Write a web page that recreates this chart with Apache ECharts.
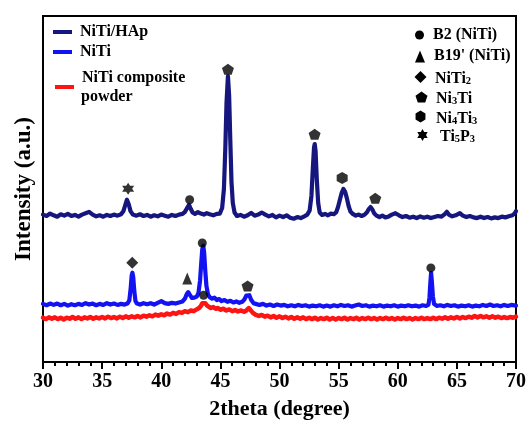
<!DOCTYPE html>
<html>
<head>
<meta charset="utf-8">
<script src="https://cdn.jsdelivr.net/npm/echarts@6/dist/echarts.min.js"></script>
<style>
html,body{margin:0;padding:0;background:#fff;}
#chart{width:529px;height:425px;}
</style>
</head>
<body>
<div id="chart"></div>
<script>
// ---- data (2theta in degrees, intensity in arbitrary units) ----
const seriesNames = ["NiTi/HAp", "NiTi", "NiTi composite\npowder"];
const xTicks = [30, 35, 40, 45, 50, 55, 60, 65, 70];

const hapData = [[30.0,42.6],[30.3,42.2],[30.6,42.9],[30.9,42.4],[31.2,42.0],[31.5,42.7],[31.8,42.3],[32.1,42.8],[32.4,42.2],[32.7,42.5],[33.0,42.0],[33.3,42.6],[33.6,43.0],[33.9,43.4],[34.2,42.6],[34.5,42.1],[34.8,42.4],[35.1,42.0],[35.4,42.5],[35.7,42.2],[36.0,42.6],[36.3,42.3],[36.6,42.7],[36.8,43.6],[36.95,45.3],[37.1,46.9],[37.25,45.6],[37.4,43.6],[37.6,42.6],[37.9,42.3],[38.2,42.7],[38.5,42.2],[38.8,42.5],[39.1,42.0],[39.4,42.4],[39.7,42.1],[40.0,42.6],[40.3,42.3],[40.6,42.0],[40.9,42.5],[41.2,42.2],[41.5,42.6],[41.8,42.8],[42.0,43.4],[42.2,44.6],[42.35,45.4],[42.5,44.2],[42.65,43.2],[42.85,42.8],[43.1,43.3],[43.35,42.9],[43.6,42.6],[43.85,43.0],[44.1,42.7],[44.4,42.4],[44.7,42.8],[44.95,42.9],[45.15,44.5],[45.3,50.0],[45.42,62.0],[45.52,75.0],[45.64,82.6],[45.74,77.0],[45.84,64.0],[45.94,52.0],[46.05,46.0],[46.2,43.2],[46.4,42.2],[46.7,42.5],[47.0,42.0],[47.3,42.4],[47.6,43.1],[47.9,42.3],[48.2,42.6],[48.5,43.2],[48.8,42.6],[49.1,42.1],[49.4,42.5],[49.7,41.8],[50.0,42.3],[50.3,41.9],[50.6,42.4],[50.9,41.7],[51.2,41.4],[51.5,41.9],[51.8,41.6],[52.1,42.1],[52.35,42.6],[52.55,43.8],[52.7,48.0],[52.82,56.0],[52.92,62.0],[52.98,63.0],[53.05,61.0],[53.15,53.0],[53.27,46.0],[53.4,43.2],[53.6,42.5],[53.85,42.8],[54.1,42.4],[54.35,42.9],[54.6,42.7],[54.8,43.3],[54.95,44.8],[55.1,46.8],[55.25,48.8],[55.4,50.0],[55.55,49.2],[55.7,47.3],[55.85,45.0],[56.0,43.5],[56.2,42.8],[56.45,42.3],[56.7,42.6],[56.95,42.2],[57.2,42.6],[57.4,43.3],[57.55,44.2],[57.7,44.8],[57.85,44.1],[58.0,43.0],[58.2,42.3],[58.45,41.9],[58.7,42.3],[58.95,41.8],[59.2,42.0],[59.5,42.6],[59.8,43.0],[60.1,42.4],[60.4,41.9],[60.7,42.2],[61.0,41.7],[61.3,42.0],[61.6,41.6],[61.9,42.1],[62.2,41.7],[62.5,42.0],[62.8,41.6],[63.1,41.9],[63.4,42.2],[63.7,42.0],[64.0,42.8],[64.15,43.4],[64.35,42.5],[64.6,42.1],[64.9,42.4],[65.25,43.0],[65.5,42.3],[65.8,41.9],[66.1,42.2],[66.4,41.8],[66.7,41.6],[67.0,42.0],[67.3,41.6],[67.6,41.9],[67.9,41.5],[68.2,41.8],[68.5,41.6],[68.8,42.0],[69.1,41.8],[69.4,42.1],[69.7,42.4],[69.9,43.0],[70.0,43.6]];

const nitiData = [[30.0,16.8],[30.3,16.4],[30.6,16.9],[30.9,16.5],[31.2,16.9],[31.5,16.4],[31.8,16.8],[32.1,16.3],[32.4,16.7],[32.7,16.4],[33.0,16.8],[33.3,16.5],[33.6,17.0],[33.9,16.6],[34.2,16.9],[34.5,16.4],[34.8,16.8],[35.1,16.5],[35.4,17.0],[35.7,16.6],[36.0,16.9],[36.3,16.5],[36.6,16.8],[36.9,16.6],[37.15,16.9],[37.3,17.8],[37.42,21.5],[37.5,25.0],[37.56,25.8],[37.63,24.5],[37.72,20.5],[37.82,17.6],[37.95,16.9],[38.2,16.6],[38.5,17.0],[38.8,16.7],[39.1,17.0],[39.4,16.6],[39.7,17.1],[40.0,17.6],[40.3,17.0],[40.6,16.8],[40.9,17.1],[41.2,16.9],[41.5,17.2],[41.8,17.5],[42.0,18.3],[42.15,19.6],[42.28,20.2],[42.42,19.4],[42.6,18.5],[42.8,18.6],[43.0,18.9],[43.15,20.0],[43.28,23.5],[43.38,28.5],[43.47,32.6],[43.55,33.6],[43.63,31.5],[43.72,26.5],[43.82,22.0],[43.95,19.6],[44.1,18.7],[44.3,18.3],[44.5,18.6],[44.7,17.9],[44.9,18.2],[45.1,17.6],[45.35,17.9],[45.6,17.4],[45.85,17.7],[46.1,17.2],[46.35,17.5],[46.6,17.1],[46.85,17.4],[47.05,18.2],[47.2,19.2],[47.32,19.7],[47.45,19.3],[47.6,18.0],[47.8,17.0],[48.0,16.8],[48.3,16.5],[48.6,16.8],[48.9,16.3],[49.2,16.6],[49.5,16.2],[49.8,16.6],[50.1,16.3],[50.4,16.5],[50.7,16.1],[51.0,16.4],[51.3,16.1],[51.6,16.5],[51.9,16.2],[52.2,16.4],[52.5,16.0],[52.8,16.3],[53.1,16.1],[53.4,16.4],[53.7,16.0],[54.0,16.3],[54.3,16.0],[54.6,16.4],[54.9,16.1],[55.2,16.5],[55.5,16.2],[55.8,16.4],[56.1,16.0],[56.4,16.3],[56.7,16.6],[57.0,16.2],[57.3,16.4],[57.6,16.0],[57.9,16.3],[58.2,16.1],[58.5,16.4],[58.8,16.0],[59.1,16.3],[59.4,16.1],[59.7,16.4],[60.0,16.0],[60.3,16.3],[60.6,16.1],[60.9,16.4],[61.2,16.1],[61.5,16.3],[61.8,16.0],[62.1,16.4],[62.4,16.2],[62.6,16.6],[62.68,18.5],[62.75,22.5],[62.82,25.8],[62.89,23.0],[62.97,19.0],[63.07,16.8],[63.3,16.2],[63.6,16.4],[63.9,16.1],[64.2,16.5],[64.5,16.2],[64.8,16.4],[65.1,16.0],[65.4,16.3],[65.7,16.1],[66.0,16.4],[66.3,16.0],[66.6,16.3],[66.9,16.1],[67.2,16.5],[67.5,16.2],[67.8,16.6],[68.1,16.2],[68.4,16.4],[68.7,16.1],[69.0,16.5],[69.3,16.2],[69.6,16.5],[70.0,16.3]];

const powderData = [[30.0,12.8],[30.25,12.4],[30.5,12.9],[30.75,12.5],[31.0,12.9],[31.25,12.4],[31.5,12.8],[31.75,12.3],[32.0,12.8],[32.25,12.5],[32.5,13.0],[32.75,12.5],[33.0,12.9],[33.25,12.4],[33.5,12.9],[33.75,12.6],[34.0,13.0],[34.25,12.5],[34.5,12.9],[34.75,12.6],[35.0,13.0],[35.25,12.6],[35.5,13.1],[35.75,12.7],[36.0,13.0],[36.25,12.6],[36.5,13.1],[36.75,12.7],[37.0,13.2],[37.25,12.8],[37.5,13.2],[37.75,12.9],[38.0,13.3],[38.25,12.9],[38.5,13.4],[38.75,13.1],[39.0,13.5],[39.25,13.2],[39.5,13.7],[39.75,13.4],[40.0,13.8],[40.25,13.5],[40.5,14.0],[40.75,13.7],[41.0,14.2],[41.25,13.9],[41.5,14.4],[41.75,14.2],[42.0,14.7],[42.25,14.4],[42.5,14.9],[42.75,14.7],[43.0,15.2],[43.2,15.6],[43.35,16.2],[43.48,17.0],[43.6,17.4],[43.72,17.0],[43.85,16.4],[44.0,16.0],[44.2,15.6],[44.4,15.9],[44.6,15.4],[44.8,15.6],[45.0,15.1],[45.25,15.4],[45.5,14.9],[45.75,15.2],[46.0,14.7],[46.25,15.0],[46.5,14.6],[46.75,14.9],[47.0,14.5],[47.2,14.9],[47.4,15.6],[47.55,15.2],[47.75,14.2],[48.0,13.6],[48.25,13.3],[48.5,13.6],[48.75,13.1],[49.0,13.4],[49.25,12.9],[49.5,13.3],[49.75,12.8],[50.0,13.2],[50.25,12.7],[50.5,13.1],[50.75,12.6],[51.0,13.0],[51.25,12.5],[51.5,12.9],[51.75,12.5],[52.0,12.9],[52.25,12.4],[52.5,12.8],[52.75,12.4],[53.0,12.8],[53.25,12.3],[53.5,12.7],[53.75,12.4],[54.0,12.8],[54.25,12.3],[54.5,12.7],[54.75,12.3],[55.0,12.7],[55.25,12.4],[55.5,12.8],[55.75,12.3],[56.0,12.7],[56.25,12.4],[56.5,12.8],[56.75,12.3],[57.0,12.7],[57.25,12.4],[57.5,12.8],[57.75,12.4],[58.0,12.7],[58.25,12.3],[58.5,12.7],[58.75,12.4],[59.0,12.8],[59.25,12.4],[59.5,12.7],[59.75,12.3],[60.0,12.7],[60.25,12.4],[60.5,12.8],[60.75,12.4],[61.0,12.7],[61.25,12.3],[61.5,12.7],[61.75,12.4],[62.0,12.8],[62.25,12.4],[62.5,12.7],[62.75,12.4],[63.0,12.8],[63.25,12.4],[63.5,12.8],[63.75,12.5],[64.0,12.9],[64.25,12.5],[64.5,12.9],[64.75,12.6],[65.0,13.0],[65.25,12.6],[65.5,13.0],[65.75,12.7],[66.0,13.1],[66.25,12.8],[66.5,13.3],[66.75,12.9],[67.0,13.3],[67.25,12.9],[67.5,13.2],[67.75,12.8],[68.0,13.2],[68.25,12.8],[68.5,13.1],[68.75,12.7],[69.0,13.0],[69.25,12.7],[69.5,13.0],[69.75,12.8],[70.0,13.1]];

// phase markers: [2theta, height]
const b2Points = [[42.4,46.9],[43.47,34.4],[43.58,19.3],[62.8,27.2]];
const b19Points = [[42.2,24.1]];
const niti2Points = [[37.55,28.7]];
const ni3tiPoints = [[45.64,84.6],[52.97,65.8],[47.3,22.0],[58.1,47.3]];
const ni4ti3Points = [[55.3,53.2]];
const ti5p3Points = [[37.2,50.1]];

// ---- styling ----
const FONT = "'Liberation Serif','Times New Roman',serif";
const navy = "#16167f";
const blue = "#1212f2";
const red = "#ff1414";
// unit shapes (0..100 box)
const SH_TRI = [[50,0],[100,100],[0,100]];
const SH_DIA = [[50,0],[100,50],[50,100],[0,50]];
const SH_PENT = [[50,0],[100,38],[81,100],[19,100],[0,38]];
const SH_HEX = [[50,0],[95,25],[95,75],[50,100],[5,75],[5,25]];
const SH_STAR = [[50,0],[64,25],[93,25],[79,50],[93,75],[64,75],[50,100],[36,75],[7,75],[21,50],[7,25],[36,25]];
function toPath(pts) {
  return 'path://' + pts.map((p, i) => (i ? 'L' : 'M') + p[0] + ',' + p[1]).join(' ') + ' Z';
}

function markerSeries(name, data, symbol, size) {
  return {
    name: name, type: 'scatter', data: data, symbol: symbol, symbolSize: size,
    itemStyle: { color: '#000' }, z: 5, silent: true
  };
}
function lineSeries(name, data, color, width, z) {
  return { name: name, type: 'line', data: data, showSymbol: false,
    lineStyle: { color: color, width: width, join: 'round', cap: 'round' }, z: z };
}

const chart = echarts.init(document.getElementById('chart'), null, { renderer: 'canvas' });

const legText = { fontFamily: FONT, fontWeight: 'bold', fontSize: 16, fill: '#000' };
const legText2 = { fontFamily: FONT, fontWeight: 'bold', fontSize: 16, fill: '#000' };
const subRich = {
  a: { fontFamily: FONT, fontWeight: 'bold', fontSize: 16, lineHeight: 19, verticalAlign: 'bottom', fill: '#000' },
  b: { fontFamily: FONT, fontWeight: 'bold', fontSize: 10.5, lineHeight: 12, verticalAlign: 'bottom', fill: '#000' }
};
function gtext(x, y, text, style) {
  return { type: 'text', x: x, y: y, style: Object.assign({ text: text, verticalAlign: 'middle' }, style) };
}
function richText(x, y, text) {
  return { type: 'text', x: x, y: y, style: { text: text, rich: subRich, fill: '#000', verticalAlign: 'middle', fontFamily: FONT, fontWeight: 'bold', fontSize: 16 } };
}
function legSym(cx, cy, w, h, pts) {
  return { type: 'polygon', shape: { points: pts.map(p => [cx - w / 2 + p[0] * w / 100, cy - h / 2 + p[1] * h / 100]) }, style: { fill: '#000' } };
}

const option = {
  animation: false,
  backgroundColor: '#fff',
  grid: { left: 43, right: 9, top: 16, bottom: 62, show: true, borderColor: '#000', borderWidth: 2 },
  xAxis: {
    type: 'value', min: xTicks[0], max: xTicks[xTicks.length - 1], interval: 5,
    name: '2theta (degree)', nameLocation: 'middle', nameGap: 36,
    nameTextStyle: { fontFamily: FONT, fontWeight: 'bold', fontSize: 22, color: '#000' },
    axisLine: { lineStyle: { color: '#000', width: 2 } },
    axisTick: { show: true, length: 7, lineStyle: { color: '#000', width: 2 } },
    minorTick: { show: true, splitNumber: 5, length: 4, lineStyle: { color: '#000', width: 2 } },
    axisLabel: { fontFamily: FONT, fontWeight: 'bold', fontSize: 20, color: '#000', margin: 10 },
    splitLine: { show: false }
  },
  yAxis: {
    type: 'value', min: 0, max: 100,
    name: 'Intensity (a.u.)', nameLocation: 'middle', nameGap: 7,
    nameTextStyle: { fontFamily: FONT, fontWeight: 'bold', fontSize: 23, color: '#000' },
    axisLine: { show: true, lineStyle: { color: '#000', width: 2 } },
    axisTick: { show: false }, axisLabel: { show: false }, splitLine: { show: false }
  },
  series: [
    lineSeries(seriesNames[2], powderData, red, 4.5, 2),
    lineSeries(seriesNames[1], nitiData, blue, 4.2, 3),
    lineSeries(seriesNames[0], hapData, navy, 4.2, 3),
    markerSeries('B2 (NiTi)', b2Points, 'circle', 9),
    markerSeries("B19' (NiTi)", b19Points, 'triangle', [10, 12]),
    markerSeries('NiTi2', niti2Points, 'diamond', [12, 12]),
    markerSeries('Ni3Ti', ni3tiPoints, toPath(SH_PENT), [12, 11]),
    markerSeries('Ni4Ti3', ni4ti3Points, toPath(SH_HEX), [11, 12]),
    markerSeries('Ti5P3', ti5p3Points, toPath(SH_STAR), [12, 12])
  ],
  graphic: [
    { type: 'rect', shape: { x: 53, y: 30, width: 19, height: 4 }, style: { fill: navy } },
    { type: 'rect', shape: { x: 53, y: 50, width: 19, height: 4 }, style: { fill: blue } },
    { type: 'rect', shape: { x: 55, y: 85, width: 19, height: 4 }, style: { fill: red } },
    gtext(80, 32, 'NiTi/HAp', legText),
    gtext(80, 52, 'NiTi', legText),
    gtext(82, 78, 'NiTi composite', legText),
    gtext(81, 97, 'powder', legText),
    { type: 'circle', shape: { cx: 419.5, cy: 35, r: 4.5 }, style: { fill: '#000' } },
    legSym(420, 56.5, 10, 12, SH_TRI),
    legSym(420.5, 77, 12, 12, SH_DIA),
    legSym(421.5, 97, 12, 11, SH_PENT),
    legSym(420.5, 116.5, 11, 12, SH_HEX),
    legSym(422.5, 135, 12, 12, SH_STAR),
    gtext(433, 35, 'B2 (NiTi)', legText2),
    gtext(434, 56, "B19' (NiTi)", legText2),
    richText(435, 77, '{a|NiTi}{b|2}'),
    richText(436, 97, '{a|Ni}{b|3}{a|Ti}'),
    richText(436, 117, '{a|Ni}{b|4}{a|Ti}{b|3}'),
    richText(440, 135, '{a|Ti}{b|5}{a|P}{b|3}')
  ]
};
chart.setOption(option);
</script>
</body>
</html>
